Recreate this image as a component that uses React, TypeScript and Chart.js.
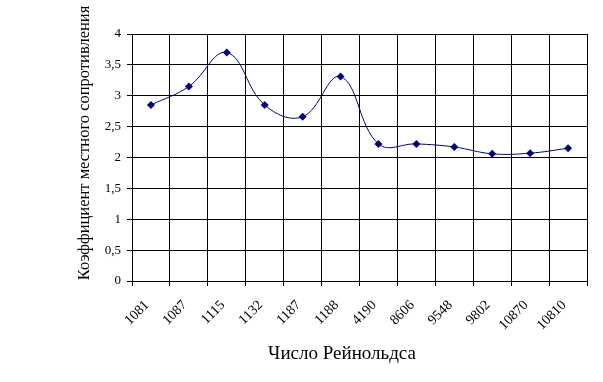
import React, { useEffect, useRef } from "react";
import { Chart, registerables } from "chart.js";

Chart.register(...registerables);

const categories = ["1081", "1087", "1115", "1132", "1187", "1188", "4190", "8606", "9548", "9802", "10870", "10810"];
const values = [2.85, 3.15, 3.7, 2.85, 2.66, 3.31, 2.22, 2.22, 2.17, 2.06, 2.07, 2.15];
const yTitle = "Коэффициент местного сопротивления";
const xTitle = "Число Рейнольдса";

const FONT = "'Liberation Serif', 'Times New Roman', serif";

const titlesPlugin = {
  id: "axisTitles",
  afterDraw(chart: any) {
    const ctx = chart.ctx;
    ctx.save();
    ctx.fillStyle = "#000";
    ctx.textAlign = "center";
    ctx.textBaseline = "middle";
    ctx.font = `19px ${FONT}`;
    ctx.fillText(xTitle, 342, 354);
    ctx.translate(85, 143);
    ctx.rotate(-Math.PI / 2);
    ctx.font = `16.5px ${FONT}`;
    ctx.fillText(yTitle, 0, 0);
    ctx.restore();
  },
};

export default function App() {
  const ref = useRef<HTMLCanvasElement | null>(null);
  useEffect(() => {
    if (!ref.current) return;
    const chart = new Chart(ref.current, {
      type: "line",
      data: {
        labels: categories,
        datasets: [
          {
            data: values,
            borderColor: "#000080",
            backgroundColor: "#000080",
            borderWidth: 1,
            pointStyle: "rectRot",
            pointRadius: 4,
            pointBorderWidth: 0,
            tension: 0.4,
            fill: false,
          },
        ],
      },
      options: {
        animation: false,
        responsive: true,
        maintainAspectRatio: false,
        layout: { padding: { left: 0, top: 34, right: 16, bottom: 0 } },
        plugins: { legend: { display: false }, tooltip: { enabled: false } },
        scales: {
          x: {
            offset: true,
            grid: { offset: true, color: "#000", lineWidth: 1, tickLength: 5, drawTicks: true },
            border: { color: "#000", width: 1 },
            ticks: {
              color: "#000",
              font: { family: FONT, size: 14 },
              minRotation: 45,
              maxRotation: 45,
              padding: 11,
              labelOffset: -4,
              autoSkip: false,
            },
            afterFit: (s: any) => {
              s.height = 101;
            },
          },
          y: {
            min: 0,
            max: 4,
            grid: { color: "#000", lineWidth: 1, tickLength: 5 },
            border: { color: "#000", width: 1 },
            ticks: {
              stepSize: 0.5,
              color: "#000",
              font: { family: FONT, size: 13 },
              padding: 6,
              callback: (v: any) => String(v).replace(".", ","),
            },
            afterFit: (s: any) => {
              s.width = 132;
            },
          },
        },
      },
      plugins: [titlesPlugin],
    });
    return () => chart.destroy();
  }, []);
  return (
    <div style={{ position: "fixed", left: 0, top: 0, width: 603, height: 382, background: "#fff" }}>
      <canvas ref={ref} />
    </div>
  );
}
